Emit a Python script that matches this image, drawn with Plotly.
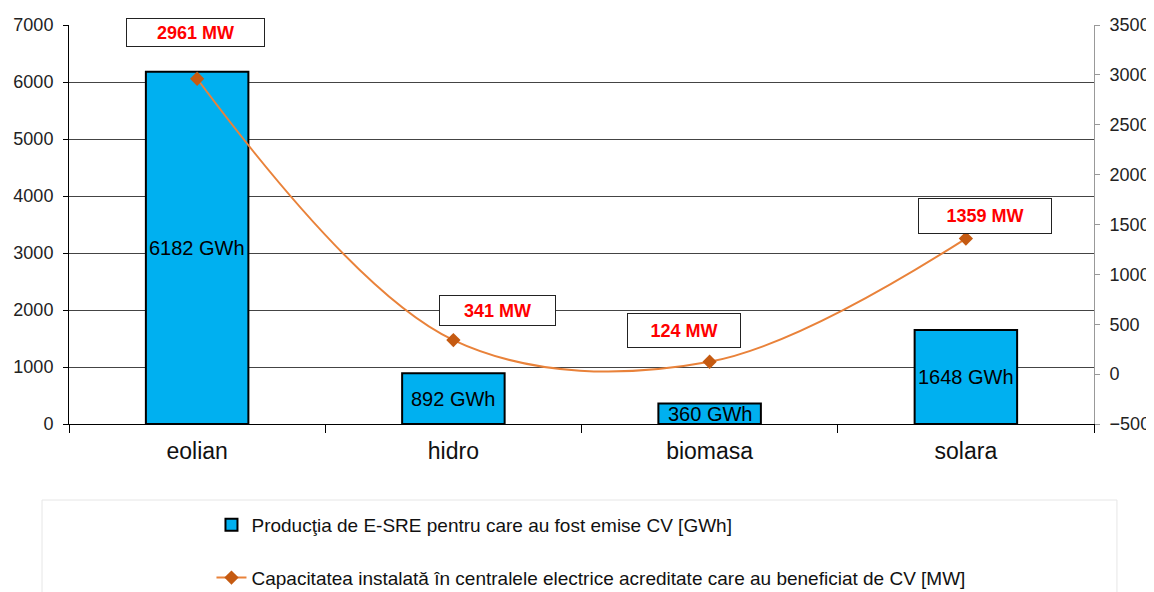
import plotly.graph_objects as go

categories = ['eolian', 'hidro', 'biomasa', 'solara']
productie_gwh = [6182, 892, 360, 1648]
capacitate_mw = [2961, 341, 124, 1359]

bar_labels = [str(v) + ' GWh' for v in productie_gwh]
mw_labels = [str(v) + ' MW' for v in capacitate_mw]

name_bar = 'Producţia de E-SRE pentru care au fost emise CV [GWh]'
name_line = 'Capacitatea instalată în centralele electrice acreditate care au beneficiat de CV [MW]'

fig = go.Figure()

fig.add_trace(go.Bar(
    x=categories, y=productie_gwh, name=name_bar,
    marker=dict(color='#00B0F0', line=dict(color='black', width=2)),
    width=0.4, legendgroup='a',
))

fig.add_trace(go.Scatter(
    x=categories, y=capacitate_mw, name=name_line, yaxis='y2',
    mode='lines+markers', line=dict(color='#E9823A', width=2, shape='spline', smoothing=1),
    marker=dict(symbol='diamond', size=11, color='#C55A11'),
    legendgroup='b',
))

# bar value labels (centre of each bar)
for c, v, t in zip(categories, productie_gwh, bar_labels):
    fig.add_annotation(x=c, y=v / 2, xref='x', yref='y', text=t, showarrow=False,
                       font=dict(family='Arial', size=20, color='black'))

# MW labels in white boxes
shifts = [(-2, 46, 139, 29), (44, 30, 117, 31), (-26, 31, 114, 35), (19, 23, 134, 36)]
for c, v, t, (dx, dy, w, h) in zip(categories, capacitate_mw, mw_labels, shifts):
    fig.add_annotation(x=c, y=v, xref='x', yref='y2', text='<b>' + t + '</b>', showarrow=False,
                       xshift=dx, yshift=dy, width=w - 4, height=h - 4,
                       bgcolor='white', bordercolor='#222', borderwidth=1,
                       font=dict(family='Arial', size=18, color='#FF0000'))

# legend frame
fig.add_shape(type='rect', xref='paper', yref='paper',
              x0=-0.0263, x1=1.0224, y0=-0.45, y1=-0.1905,
              line=dict(color='#E6E6E6', width=1), fillcolor='white', layer='below')

fig.update_layout(
    width=1146, height=584,
    margin=dict(l=61, r=60, t=17, b=168, autoexpand=False),
    plot_bgcolor='white', paper_bgcolor='white',
    font=dict(family='Arial', size=18, color='#222'),
    showlegend=True,
    legend=dict(x=0.139, y=-0.2055, xanchor='left', yanchor='top',
                orientation='v', traceorder='grouped', tracegroupgap=25,
                font=dict(family='Arial', size=19, color='#111'),
                bgcolor='rgba(0,0,0,0)'),
    xaxis=dict(showline=True, linecolor='black', linewidth=1, automargin=False,
               ticks='outside', tickson='boundaries', ticklen=8, tickcolor='black',
               ticklabelstandoff=6,
               tickfont=dict(size=23, color='#111'), range=[-0.5, 3.5]),
    yaxis=dict(range=[0, 7000], dtick=1000, showgrid=True, gridcolor='#444', gridwidth=1,
               showline=True, linecolor='black', linewidth=1, ticks='outside', ticklen=5,
               tickcolor='black', zeroline=False, automargin=False, ticklabelstandoff=6,
               tickfont=dict(size=18)),
    yaxis2=dict(range=[-500, 3500], dtick=500, overlaying='y', side='right',
                showgrid=False, zeroline=False, showline=True, linecolor='#999',
                ticks='outside', ticklen=5, tickcolor='#999', automargin=False,
                ticklabelstandoff=6, tickfont=dict(size=18)),
)

fig.write_html('out.html')
